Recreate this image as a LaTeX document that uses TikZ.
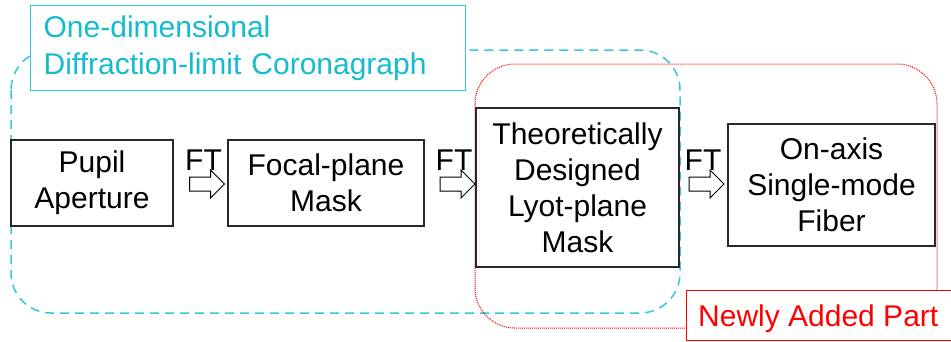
\documentclass[tikz,border=0pt]{standalone}
\usepackage{fontspec}
\setmainfont{Liberation Sans}
\usetikzlibrary{shapes.arrows}
\definecolor{cyantext}{RGB}{20,188,206}
\definecolor{cyanline}{RGB}{50,200,222}
\definecolor{boxline}{RGB}{40,40,40}
\begin{document}
\begin{tikzpicture}[x=1pt,y=-1pt,
  every node/.style={font=\fontsize{30}{36}\selectfont},
  blockbox/.style={draw=boxline,line width=1.3pt,fill=white,align=center,inner sep=0pt},
  ftarrow/.style={single arrow,draw=black,line width=1pt,fill=white,minimum height=35pt,single arrow head extend=7pt,single arrow head indent=0pt,inner xsep=0pt,inner ysep=6.5pt},
  ftlabel/.style={inner sep=0pt},
  cyangroup/.style={draw=cyanline,line width=1.5pt,dash pattern=on 9pt off 6pt,rounded corners=40pt},
  redgroup/.style={draw=red,line width=1pt,dash pattern=on 1pt off 1pt,rounded corners=40pt},
  cyanlabel/.style={draw=cyanline,line width=1.3pt,fill=white,text=cyantext,align=left,inner xsep=13pt,inner ysep=0pt,font=\fontsize{30}{37}\selectfont},
  redbox/.style={draw=red,line width=1.3pt,fill=white,inner sep=0pt},
  redtext/.style={text=red,inner sep=0pt,font=\fontsize{30}{36}\selectfont}]
\useasboundingbox (0,0) rectangle (951,341);
% group outlines
\draw[cyangroup] (11,50) rectangle (680,313);
\draw[redgroup] (475,64) rectangle (937,328);
% boxes
\node[blockbox,minimum width=162pt,minimum height=86pt] (pupil) at (92,183) {Pupil\\Aperture};
\node[blockbox,minimum width=196pt,minimum height=86pt] (focal) at (326,183) {Focal-plane\\Mask};
\node[blockbox,minimum width=203pt,minimum height=159pt] (lyot) at (577.5,187.5) {Theoretically\\Designed\\Lyot-plane\\Mask};
\node[blockbox,minimum width=207pt,minimum height=122pt] (fiber) at (831.5,185) {On-axis\\Single-mode\\Fiber};
% FT arrows
\node[ftarrow] (a1) at (203.5,184) {};
\node[ftarrow] (a2) at (454,184) {};
\node[ftarrow] (a3) at (703,184) {};
\node[ftlabel,anchor=base] (f1) at (203.5,170) {FT};
\node[ftlabel,anchor=base] (f2) at (454,170) {FT};
\node[ftlabel,anchor=base] (f3) at (703,170) {FT};
% labels
\node[cyanlabel,anchor=north west,text width=409pt,minimum height=85pt] (clabel) at (30,5) {One-dimensional\\Diffraction-limit Coronagraph};
\node[redbox,anchor=north west,minimum width=272pt,minimum height=50pt] (rlabel) at (686,290) {};
\node[redtext,anchor=base west] (rtext) at (698,326) {Newly Added Part};
\end{tikzpicture}
\end{document}
